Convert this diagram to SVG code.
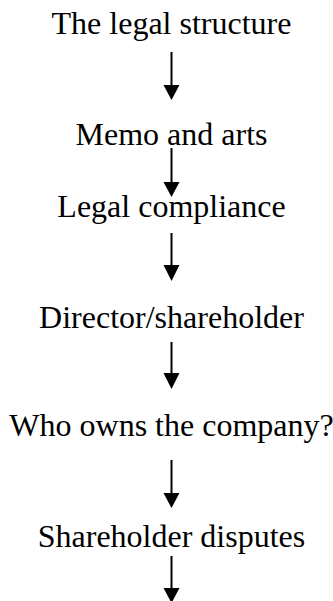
<svg xmlns="http://www.w3.org/2000/svg" width="333" height="601" viewBox="0 0 333 601">
  <style>
    .label { font-family: 'Liberation Serif', serif; font-size: 32px; fill: #000; text-anchor: middle; }
    .link { stroke: #000; stroke-width: 2; fill: none; }
    .head { fill: #000; }
  </style>
  <rect width="333" height="601" fill="#fff"/>

  <!-- flow steps, top to bottom -->
  <g id="n1"><text class="label" x="171.5" y="34">The legal structure</text></g>
  <g id="n2"><text class="label" x="171.5" y="145">Memo and arts</text></g>
  <g id="n3"><text class="label" x="171.5" y="217">Legal compliance</text></g>
  <g id="n4"><text class="label" x="171.5" y="328">Director/shareholder</text></g>
  <g id="n5"><text class="label" x="171.5" y="436">Who owns the company?</text></g>
  <g id="n6"><text class="label" x="171.5" y="547">Shareholder disputes</text></g>

  <!-- downward arrows between steps -->
  <g id="connectors">
    <line class="link" x1="171.5" y1="52" x2="171.5" y2="86"/>
    <polygon class="head" points="163.5,85 179.5,85 171.5,100"/>
    <line class="link" x1="171.5" y1="148" x2="171.5" y2="183"/>
    <polygon class="head" points="163.5,182 179.5,182 171.5,197"/>
    <line class="link" x1="171.5" y1="233" x2="171.5" y2="266"/>
    <polygon class="head" points="163.5,265 179.5,265 171.5,281"/>
    <line class="link" x1="171.5" y1="342" x2="171.5" y2="374"/>
    <polygon class="head" points="163.5,373 179.5,373 171.5,389"/>
    <line class="link" x1="171.5" y1="460" x2="171.5" y2="494"/>
    <polygon class="head" points="163.5,493 179.5,493 171.5,508"/>
    <line class="link" x1="171.5" y1="556" x2="171.5" y2="589"/>
    <polygon class="head" points="163.5,588 179.5,588 171.5,603"/>
  </g>
</svg>
